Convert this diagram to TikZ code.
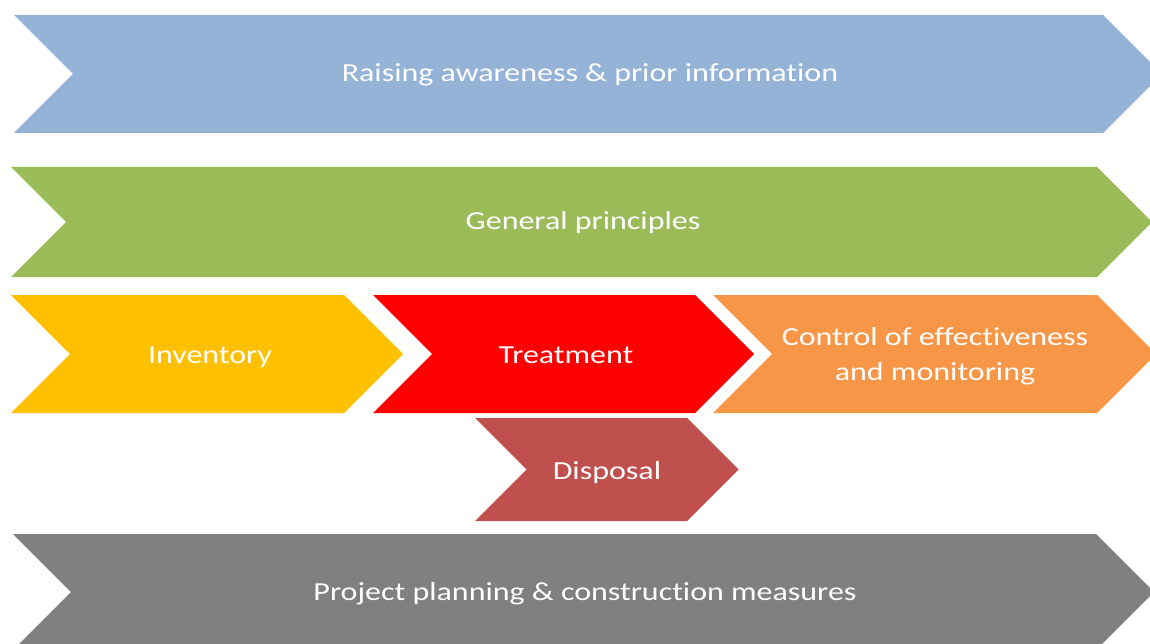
\documentclass[tikz,border=0pt]{standalone}
\usepackage{fontspec}
\setmainfont{Carlito}[Ligatures=NoCommon]
\definecolor{cblue}{HTML}{95B3D7}
\definecolor{cgreen}{HTML}{9BBB59}
\definecolor{cyellow}{HTML}{FFC000}
\definecolor{cred}{HTML}{FF0000}
\definecolor{corange}{HTML}{F79646}
\definecolor{cdisp}{HTML}{C0504D}
\definecolor{cgray}{HTML}{808080}
\newcommand\chevshape[6]{%
  \fill[#6] (#1,#3) -- (#2,#3) -- ({#2+#5},{(#3+#4)/2}) -- (#2,#4) -- (#1,#4) -- ({#1+#5},{(#3+#4)/2}) -- cycle;}
\newcommand\wtxt[1]{\scalebox{1.23}[1]{\begin{tabular}{@{}c@{}}#1\end{tabular}}}
\tikzset{lbl/.style={text=white,font=\fontsize{26}{35}\selectfont,inner sep=0pt}}
\begin{document}
\begin{tikzpicture}[x=1pt,y=-1pt]
\useasboundingbox (0,0) rectangle (1150,644);
\clip (0,0) rectangle (1150,644);
\fill[white] (0,0) rectangle (1150,644);
\chevshape{14}{1103}{15}{133}{59}{cblue}
\chevshape{11}{1097}{167}{277}{55}{cgreen}
\chevshape{11}{344}{295}{413}{59}{cyellow}
\chevshape{373}{695}{295}{413}{59}{cred}
\chevshape{713}{1097}{295}{413}{59}{corange}
\chevshape{475}{687}{418}{521}{51.5}{cdisp}
\chevshape{13}{1096}{534}{650}{58}{cgray}
\node[lbl] (aware) at (590,75) {\wtxt{Raising awareness \& prior information}};
\node[lbl] (gen) at (583,223) {\wtxt{General principles}};
\node[lbl] (inv) at (210,356) {\wtxt{Inventory}};
\node[lbl] (treat) at (566,356) {\wtxt{Treatment}};
\node[lbl] (ctrl) at (935,356) {\wtxt{Control of effectiveness\\and monitoring}};
\node[lbl] (disp) at (607,472) {\wtxt{Disposal}};
\node[lbl] (proj) at (585,593) {\wtxt{Project planning \& construction measures}};
\end{tikzpicture}
\end{document}
